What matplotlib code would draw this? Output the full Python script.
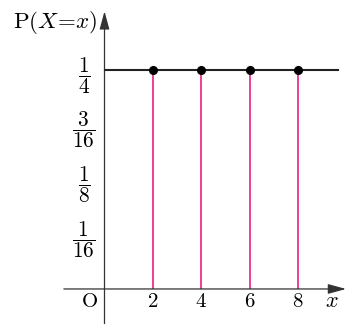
import matplotlib
matplotlib.use("Agg")
import matplotlib.pyplot as plt

plt.rcParams['mathtext.fontset'] = 'cm'

# data
xs = [2, 4, 6, 8]
probs = [1/4, 1/4, 1/4, 1/4]
ytick_vals = [1/4, 3/16, 1/8, 1/16]
ytick_labels = [r'$\dfrac{1}{4}$', r'$\dfrac{3}{16}$', r'$\dfrac{1}{8}$', r'$\dfrac{1}{16}$']
xtick_labels = ['2', '4', '6', '8']

fig = plt.figure(figsize=(3.47, 3.29), dpi=100)
ax = fig.add_axes([0, 0, 1, 1])
ax.set_xlim(-4.318, 10.02)
ax.set_ylim(-0.0457, 0.3299)
ax.axis('off')

# axes with arrows
ax.annotate('', xy=(9.98, 0), xytext=(-1.68, 0),
            arrowprops=dict(arrowstyle='-|>,head_length=1.1,head_width=0.3', color='#333333', lw=0.9,
                            shrinkA=0, shrinkB=0))
ax.annotate('', xy=(0, 0.3170), xytext=(0, -0.0395),
            arrowprops=dict(arrowstyle='-|>,head_length=1.1,head_width=0.3', color='#333333', lw=0.9,
                            shrinkA=0, shrinkB=0))

# horizontal line at 1/4
ax.plot([0, 9.65], [probs[0], probs[0]], color='#222222', lw=1.5, zorder=3)

# stems
ax.vlines(xs, 0, probs, color='#e8308c', lw=1.3, zorder=2)
ax.plot(xs, probs, 'o', color='black', ms=5.5, zorder=4)

# y tick labels
for v, lab in zip(ytick_vals, ytick_labels):
    ax.text(-0.85, v - 0.006, lab, ha='center', va='center', fontsize=15.5)

# x tick labels
for v, lab in zip(xs, xtick_labels):
    ax.text(v, -0.0135, r'$\mathrm{%s}$' % lab, ha='center', va='center', fontsize=15)
ax.text(-0.6, -0.0135, r'$\mathrm{O}$', ha='center', va='center', fontsize=15)
ax.text(9.4, -0.0135, r'$x$', ha='center', va='center', fontsize=16)

# y label
ax.text(-0.3, 0.3045, r'$\mathrm{P}(X\!=\!x)$', ha='right', va='center', fontsize=16.5)

fig.savefig('out.png', dpi=100)
